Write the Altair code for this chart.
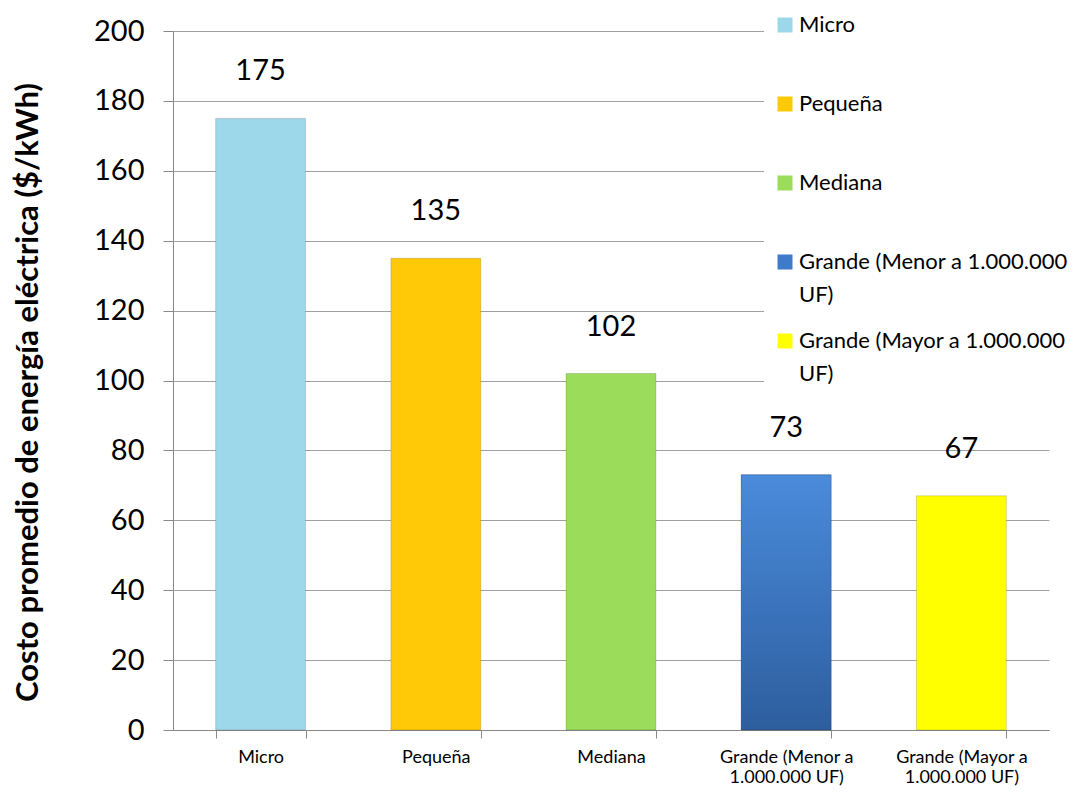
import altair as alt
import pandas as pd

categories = ["Micro", "Pequeña", "Mediana",
              "Grande (Menor a 1.000.000 UF)", "Grande (Mayor a 1.000.000 UF)"]
values = [175, 135, 102, 73, 67]
colors = ["#9DD8EA", "#FFC907", "#9BDD5B", "#3E7CCB", "#FFFF00"]
y_ticks = list(range(0, 201, 20))
y_title = "Costo promedio de energía eléctrica ($/kWh)"

df = pd.DataFrame({"cat": categories, "val": values})

FONT = "Lato"

xenc = alt.X(
    "cat:N", sort=categories, title=None,
    scale=alt.Scale(paddingInner=0.487, paddingOuter=0.2435),
    axis=alt.Axis(
        labelAngle=0, labelFontSize=18, labelFont=FONT, labelColor="black",
        labelLineHeight=20, labelPadding=10, tickSize=8, tickBand="extent",
        tickColor="#888888", domainColor="#888888", grid=False,
        labelExpr="split(replace(datum.label, 'a 1.000.000', 'a|1.000.000'), '|')",
    ),
)
yenc = alt.Y(
    "val:Q", title=y_title,
    scale=alt.Scale(domain=[0, 200], nice=False),
    axis=alt.Axis(
        values=y_ticks, labelFontSize=29, labelFont=FONT, labelColor="black",
        tickSize=10, labelPadding=19, tickColor="#888888", domainColor="#888888",
        gridColor="#A0A0A0", titleFontSize=31, titleFont=FONT, titleFontWeight="bold",
        titleColor="black", titleX=-145, titleY=361, titleAngle=270,
        titleBaseline="middle", titleAlign="center",
    ),
)

legend_expr = (
    "split(indexof(datum.label, ' UF)') >= 0 ? "
    "replace(datum.label, ' UF)', '|UF)') : datum.label + '| ', '|')"
)

bars = alt.Chart(df).mark_bar(stroke="black", strokeOpacity=0.15, strokeWidth=1).encode(
    x=xenc, y=yenc,
    color=alt.Color(
        "cat:N", sort=categories,
        scale=alt.Scale(domain=categories, range=colors),
        legend=alt.Legend(
            title=None, orient="none", legendX=591, legendY=-27,
            fillColor="white", padding=10, symbolType="square", symbolSize=225,
            symbolStrokeWidth=0, labelFontSize=22, labelFont=FONT, labelColor="black",
            labelLimit=400, labelOffset=3, rowPadding=24,
            labelExpr=legend_expr,
        ),
    ),
)

blue_grad = alt.Chart(df).transform_filter(
    alt.datum.cat == categories[3]
).mark_bar(
    color=alt.Gradient(
        gradient="linear", x1=0, x2=0, y1=0, y2=1,
        stops=[alt.GradientStop(color="#4A8BDB", offset=0),
               alt.GradientStop(color="#2D5E9E", offset=1)],
    ),
    stroke="black", strokeOpacity=0.15, strokeWidth=1,
).encode(x=xenc, y=yenc)

labels = alt.Chart(df).mark_text(
    dy=-47, fontSize=29, font=FONT, baseline="middle", color="black"
).encode(x=xenc, y=yenc, text="val:Q")

chart = alt.layer(bars, blue_grad, labels).properties(
    width=876, height=699,
    autosize=alt.AutoSizeParams(type="none"),
    padding={"left": 165, "top": 23, "right": 25, "bottom": 58},
).configure(
    style={"guide-label": {"lineHeight": 33}}
).configure_view(stroke="transparent")

chart.save("out.html", embed_options={"renderer": "svg", "actions": False})
